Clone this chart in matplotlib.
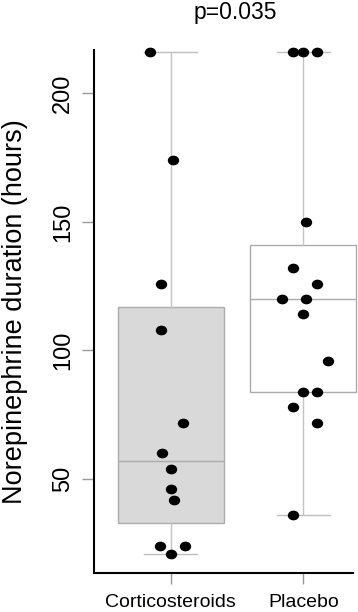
import matplotlib
matplotlib.use("Agg")
import matplotlib.pyplot as plt
import numpy as np
from matplotlib.path import Path
from matplotlib.transforms import Affine2D

plt.rcParams['font.family'] = ['Liberation Sans', 'DejaVu Sans']

groups = ['Corticosteroids', 'Placebo']
positions = [1, 2]

# hours
cortico = [216, 174, 126, 108, 72, 60, 54, 46, 42, 24, 24, 21]
cortico_jit = [-0.16, 0.017, -0.075, -0.075, 0.09, -0.063, 0.0, 0.0, 0.023, -0.078, 0.106, 0.0]

placebo = [216, 216, 216, 150, 132, 126, 120, 120, 114, 96, 84, 84, 78, 72, 36]
placebo_jit = [-0.076, 0.0, 0.106, 0.02, -0.076, 0.106, -0.159, 0.02, 0.0, 0.189, 0.0, 0.106, -0.076, 0.106, -0.076]

p_text = 'p=0.035'
yticks = [50, 100, 150, 200]


def fivenum(v):
    # Tukey hinges, like R's boxplot
    v = np.sort(np.asarray(v, dtype=float))
    n = len(v)
    n4 = np.floor((n + 3) / 2) / 2
    d = np.array([1, n4, (n + 1) / 2, n + 1 - n4, n]) - 1
    return 0.5 * (v[np.floor(d).astype(int)] + v[np.ceil(d).astype(int)])


def box_stats(v):
    lo, q1, med, q3, hi = fivenum(v)
    iqr = q3 - q1
    arr = np.asarray(v)
    whislo = arr[arr >= q1 - 1.5 * iqr].min()
    whishi = arr[arr <= q3 + 1.5 * iqr].max()
    return dict(med=med, q1=q1, q3=q3, whislo=whislo, whishi=whishi, fliers=[])


fig = plt.figure(figsize=(3.58, 6.12), dpi=100)
ax = fig.add_axes([94 / 358, (612 - 573.3) / 612, 1 - 94 / 358, (573.3 - 50) / 612])

stats = [box_stats(cortico), box_stats(placebo)]
edge = '#ababab'
bp = ax.bxp(stats, positions=positions, widths=0.8, patch_artist=True,
            showfliers=False,
            boxprops=dict(edgecolor=edge, linewidth=1.0),
            medianprops=dict(color=edge, linewidth=1.0),
            whiskerprops=dict(color='#c4c4c4', linewidth=1.0),
            capprops=dict(color='#bdbdbd', linewidth=1.0),
            capwidths=0.4)
bp['boxes'][0].set_facecolor('#d9d9d9')
bp['boxes'][1].set_facecolor('white')

ellipse = Path.unit_circle().transformed(Affine2D().scale(1, 0.83))
for pos, vals, jit in zip(positions, [cortico, placebo], [cortico_jit, placebo_jit]):
    ax.plot(pos + np.array(jit), vals, linestyle='none', marker=ellipse,
            markersize=7.2, color='black', clip_on=False, zorder=5)

ax.set_xlim(0.42, 2.413)
ax.set_ylim(13.4, 216.8)

for s in ['top', 'right']:
    ax.spines[s].set_visible(False)
ax.spines['left'].set_linewidth(1.5)
ax.spines['bottom'].set_linewidth(1.5)
ax.spines['bottom'].set_bounds(0.42, 2.375)

ax.set_yticks(yticks)
ax.set_yticklabels([str(t) for t in yticks], rotation=90, va='center', fontsize=17)
ax.set_xticks(positions)
ax.set_xticklabels(groups, fontsize=14)
ax.tick_params(axis='y', length=9, width=1, color='#999999', pad=5.5)
ax.tick_params(axis='x', length=8, width=1, color='#999999', pad=7)

ax.set_ylabel('Norepinephrine duration (hours)', fontsize=19.5, va='center')
ax.yaxis.set_label_coords((15 - 94) / 264, 0.5)

fig.text(235 / 358, 1 - 12 / 612, p_text, ha='center', va='center', fontsize=16.5)

fig.savefig('out.png', dpi=100)
